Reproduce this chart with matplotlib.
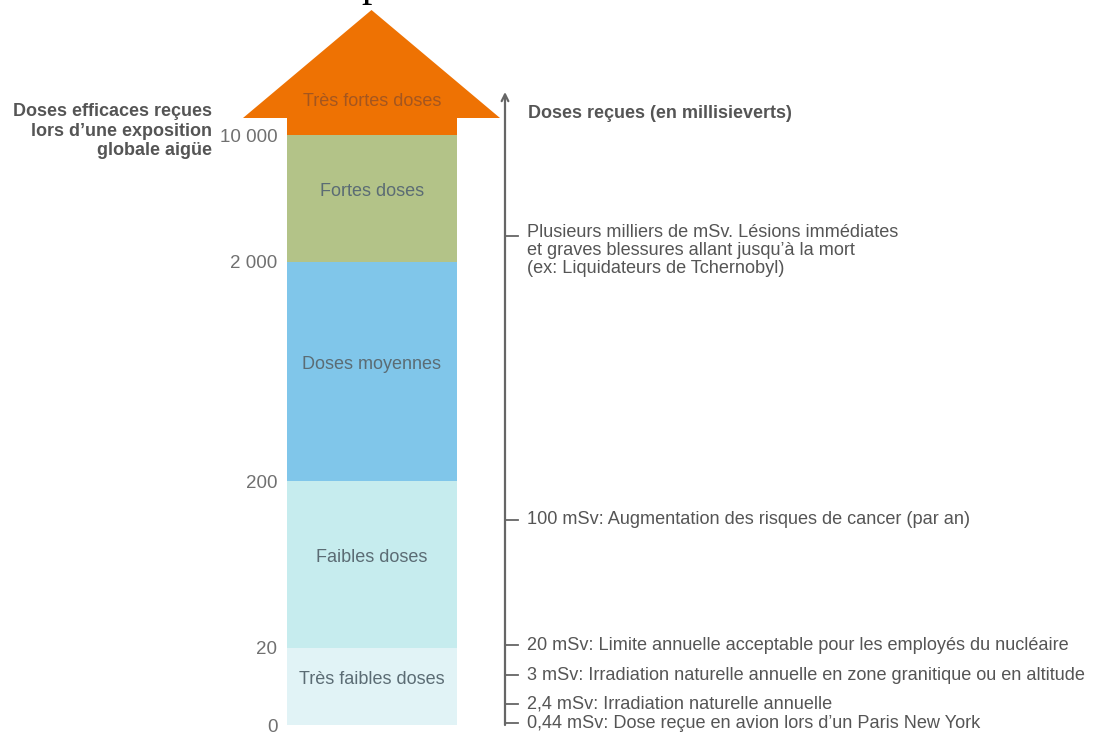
import numpy as np
import matplotlib
matplotlib.use("Agg")
import matplotlib.pyplot as plt

# band boundaries (mSv) and names
bounds = [0, 20, 200, 2000, 10000]
bound_labels = ["0", "20", "200", "2 000", "10 000"]
band_names = ["Très faibles doses", "Faibles doses", "Doses moyennes", "Fortes doses"]
band_colors = ["#e1f3f6", "#c6ecee", "#80c6ea", "#b3c388"]
top_name = "Très fortes doses"

notes = [
    "Plusieurs milliers de mSv. Lésions immédiates\net graves blessures allant jusqu’à la mort\n(ex: Liquidateurs de Tchernobyl)",
    "100 mSv: Augmentation des risques de cancer (par an)",
    "20 mSv: Limite annuelle acceptable pour les employés du nucléaire",
    "3 mSv: Irradiation naturelle annuelle en zone granitique ou en altitude",
    "2,4 mSv: Irradiation naturelle annuelle",
    "0,44 mSv: Dose reçue en avion lors d’un Paris New York",
]
note_y = [236, 520, 645, 675, 704, 723]   # layout rows (px from top)

# piecewise scale: dose -> pixel height from the bottom of the figure
xp = [-1000, 0, 20, 200, 2000, 10000, 110000]
fp = [-989, 11, 88, 255, 474, 601, 1601]

def fwd(d):
    return np.interp(d, xp, fp)

def inv(l):
    return np.interp(l, fp, xp)

plt.rcParams["font.family"] = ["Liberation Sans", "DejaVu Sans"]

W, H = 1095, 736
fig = plt.figure(figsize=(W / 100, H / 100), dpi=100)
fig.patch.set_facecolor("white")

col_l, col_r = 287, 457
ax = fig.add_axes([col_l / W, 0, (col_r - col_l) / W, 1])
ax.set_yscale("function", functions=(fwd, inv))
ax.set_xlim(col_l, col_r)
ax.set_ylim(inv(0), inv(H))
for s in ax.spines.values():
    s.set_visible(False)
ax.set_xticks([])

lo = np.array(bounds[:-1])
hi = np.array(bounds[1:])
ax.bar((col_l + col_r) / 2, hi - lo, bottom=lo, width=col_r - col_l,
       color=band_colors, linewidth=0)

# orange arrow for > 10 000
orange = "#ee7203"
base = inv(618)
tip = inv(726)
ax.bar((col_l + col_r) / 2, base - bounds[-1], bottom=bounds[-1],
       width=col_r - col_l, color=orange, linewidth=0)
ax.fill([243, 500, (243 + 500) / 2], [base, base, tip], color=orange,
        linewidth=0, clip_on=False)

for name, a, b in zip(band_names, lo, hi):
    mid = inv((fwd(a) + fwd(b)) / 2 + 7)
    ax.text((col_l + col_r) / 2, mid, name, ha="center", va="center",
            fontsize=13, color="#5b6c74")
ax.text((col_l + col_r) / 2, inv(H - 101), top_name, ha="center", va="center",
        fontsize=13, color="#a4561f")

ax.set_yticks(bounds)
ax.set_yticklabels(bound_labels)
ax.tick_params(axis="y", length=0, pad=7, labelsize=13.5, labelcolor="#707070")
ax.minorticks_off()

# layout overlay in pixel units
lay = fig.add_axes([0, 0, 1, 1], zorder=3)
lay.set_xlim(0, W)
lay.set_ylim(H, 0)
lay.axis("off")
lay.patch.set_alpha(0)

lay.text(212, 131, "Doses efficaces reçues\nlors d’une exposition\nglobale aigüe",
         ha="right", va="center", fontsize=13, fontweight="bold",
         color="#555555", linespacing=1.2)
lay.text(528, 113, "Doses reçues (en millisieverts)", ha="left", va="center",
         fontsize=13, fontweight="bold", color="#555555")

gray = "#666666"
lay.annotate("", xy=(505, 92), xytext=(505, 725),
             arrowprops=dict(arrowstyle="->", color=gray, lw=1.6,
                             mutation_scale=12, shrinkA=0, shrinkB=0))
note_font = dict(ha="left", fontsize=13.1, color="#555555")
for txt, y in zip(notes, note_y):
    lay.plot([505, 518], [y, y], color=gray, lw=1.3)
    if "\n" in txt:
        lay.text(527, y - 12, txt, va="top", linespacing=1.08, **note_font)
    else:
        lay.text(527, y, txt, va="center", **note_font)

# cut-off heading fragment at the top edge
lay.text(372, -4, "p", ha="center", va="baseline", fontsize=30,
         family=["Liberation Serif"], color="black")

fig.savefig("out.png", dpi=100)
